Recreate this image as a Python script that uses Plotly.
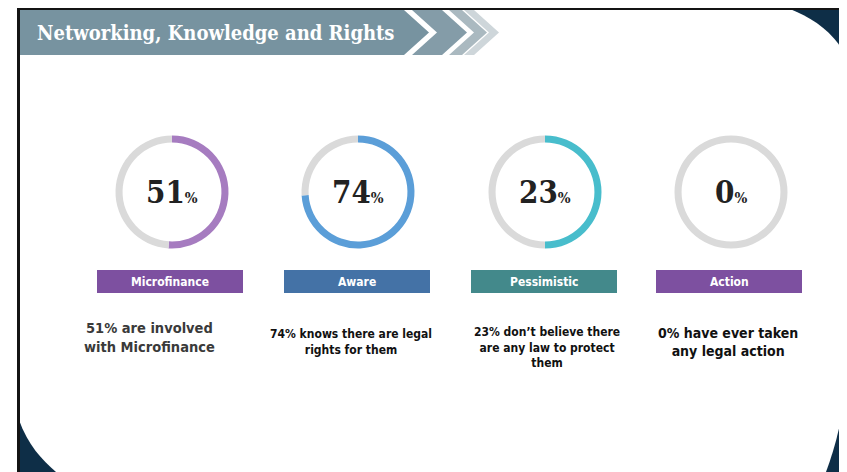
import plotly.graph_objects as go

# ---- data ----
categories = ["Microfinance", "Aware", "Pessimistic", "Action"]
headline_pct = [51, 74, 23, 0]          # numbers printed in the rings
arc_pct = [51, 74, 50, 0]               # filled share of each ring as drawn
descriptions = [
    "51% are involved<br>with Microfinance",
    "74% knows there are legal<br>rights for them",
    "23% don\u2019t believe there<br>are any law to protect<br>them",
    "0% have ever taken<br>any legal action",
]
title_text = "Networking, Knowledge and Rights"

# ---- styles ----
PAGE_W, PAGE_H = 847, 472
OFF = 8                      # default body margin of the page
W, H = PAGE_W - OFF, PAGE_H - OFF
arc_colors = ["#a67cc0", "#5b9ed8", "#48bdcc", "#a67cc0"]
bar_colors = ["#7d50a0", "#4472a6", "#43898b", "#7d50a0"]
ring_grey = "#dadada"
navy = "#0e2e47"
centers_x = [172, 358, 545, 731]
center_y = 192
ring_r = 56.5
bar_cx = [170, 357, 544, 729]
desc_cx = [149, 351, 547, 728]
desc_sizes = [14.5, 12, 12, 14]
desc_top = [318, 325, 323, 323]
desc_colors = ["#3a3a3a", "#111111", "#111111", "#111111"]

fig = go.Figure()

def px_x(v):
    return (v - OFF) / W

def px_y(v):
    return 1 - (v - OFF) / H

# rings (pie/donut traces)
for i in range(len(categories)):
    cx, cy = centers_x[i], center_y
    fig.add_trace(go.Pie(
        values=[arc_pct[i], 100 - arc_pct[i]],
        labels=[categories[i], "rest"],
        marker=dict(colors=[arc_colors[i], ring_grey], line=dict(width=0)),
        hole=0.875,
        sort=False,
        direction="clockwise",
        rotation=0,
        textinfo="none",
        hoverinfo="skip",
        showlegend=False,
        domain=dict(x=[px_x(cx - ring_r), px_x(cx + ring_r)],
                    y=[px_y(cy + ring_r), px_y(cy - ring_r)]),
    ))

shapes = []
# navy background of the slide
shapes.append(dict(type="rect", xref="x", yref="y", x0=19, x1=PAGE_W + 5, y0=9, y1=PAGE_H + 5,
                   fillcolor=navy, line=dict(width=0), layer="below"))
# white rounded slide area
shapes.append(dict(type="path", xref="x", yref="y", layer="below",
                   path=(f"M 19 9 L 790 9 C 813 18, 835 33, {PAGE_W} 58 "
                         f"L {PAGE_W} 360 C {PAGE_W} 400, 838 440, 826 {PAGE_H} "
                         f"L 56 {PAGE_H} C 42 460, 28 445, 19 420 Z"),
                   fillcolor="#ffffff", line=dict(width=0)))
# black frame lines
shapes.append(dict(type="rect", xref="x", yref="y", x0=17, x1=20, y0=7, y1=PAGE_H + 5,
                   fillcolor="#141414", line=dict(width=0)))
shapes.append(dict(type="rect", xref="x", yref="y", x0=17, x1=PAGE_W + 5, y0=7, y1=10,
                   fillcolor="#141414", line=dict(width=0)))

# title banner with chevrons
def chev(xl, xr, notch=True):
    tip = 25
    if notch:
        return f"M {xl} 10 L {xr} 10 L {xr + tip} 32.5 L {xr} 55 L {xl} 55 L {xl + tip} 32.5 Z"
    return f"M {xl} 10 L {xr} 10 L {xr + tip} 32.5 L {xr} 55 L {xl} 55 Z"

shapes.append(dict(type="path", xref="x", yref="y", path=chev(20, 404, notch=False),
                   fillcolor="#7793a0", line=dict(width=0)))
shapes.append(dict(type="path", xref="x", yref="y", path=chev(412, 442),
                   fillcolor="#849ca8", line=dict(width=0)))
shapes.append(dict(type="path", xref="x", yref="y", path=chev(449, 462),
                   fillcolor="#aab9c0", line=dict(width=0)))
shapes.append(dict(type="path", xref="x", yref="y", path=chev(464, 474),
                   fillcolor="#ced6da", line=dict(width=0)))

# category bars
for i in range(len(categories)):
    shapes.append(dict(type="rect", xref="x", yref="y",
                       x0=bar_cx[i] - 73, x1=bar_cx[i] + 73, y0=270, y1=293,
                       fillcolor=bar_colors[i], line=dict(width=0)))

annotations = []
annotations.append(dict(x=35, y=33, xref="x", yref="y", xanchor="left", yanchor="middle",
                        text=f"<b>{title_text}</b>", showarrow=False,
                        font=dict(family="DejaVu Serif Condensed", size=20, color="#ffffff")))
for i in range(len(categories)):
    annotations.append(dict(
        x=centers_x[i], y=center_y, xref="x", yref="y", xanchor="center", yanchor="middle",
        text=f"<b>{headline_pct[i]}<span style='font-size:15px'>%</span></b>",
        showarrow=False,
        font=dict(family="DejaVu Serif Condensed", size=31, color="#222222")))
    annotations.append(dict(
        x=bar_cx[i], y=281.5, xref="x", yref="y", xanchor="center", yanchor="middle",
        text=f"<b>{categories[i]}</b>", showarrow=False,
        font=dict(family="DejaVu Sans Condensed", size=12, color="#ffffff")))
    annotations.append(dict(
        x=desc_cx[i], y=desc_top[i], xref="x", yref="y", xanchor="center", yanchor="top",
        text=f"<b>{descriptions[i]}</b>", showarrow=False, align="center",
        font=dict(family="DejaVu Sans Condensed",
                  size=desc_sizes[i], color=desc_colors[i])))

fig.update_layout(
    width=W, height=H,
    margin=dict(l=0, r=0, t=0, b=0),
    paper_bgcolor="#ffffff", plot_bgcolor="rgba(0,0,0,0)",
    xaxis=dict(range=[OFF, PAGE_W], visible=False, fixedrange=True),
    yaxis=dict(range=[PAGE_H, OFF], visible=False, fixedrange=True),
    shapes=shapes, annotations=annotations,
    showlegend=False,
)

fig.write_html("out.html")
